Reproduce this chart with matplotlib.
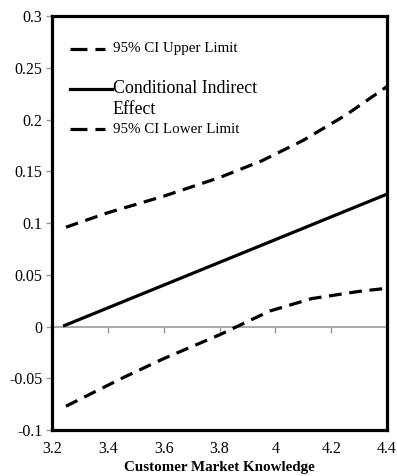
import matplotlib
matplotlib.use("Agg")
import matplotlib.pyplot as plt
from matplotlib.lines import Line2D
import numpy as np

# Data
x_mid = [3.245, 4.4]
effect = [0.001, 0.128]

x_upper = [3.25, 3.4, 3.6, 3.8, 3.95, 4.1, 4.25, 4.4]
upper = [0.096, 0.110, 0.126, 0.144, 0.160, 0.180, 0.204, 0.232]

x_lower = [3.25, 3.45, 3.6, 3.8, 3.98, 4.13, 4.3, 4.4]
lower = [-0.077, -0.050, -0.031, -0.008, 0.015, 0.027, 0.034, 0.037]

xticks = [3.2, 3.4, 3.6, 3.8, 4.0, 4.2, 4.4]
xtick_labels = ["3.2", "3.4", "3.6", "3.8", "4", "4.2", "4.4"]
yticks = [-0.1, -0.05, 0, 0.05, 0.1, 0.15, 0.2, 0.25, 0.3]
ytick_labels = ["-0.1", "-0.05", "0", "0.05", "0.1", "0.15", "0.2", "0.25", "0.3"]

legend_labels = ["95% CI Upper Limit", "Conditional Indirect", "Effect", "95% CI Lower Limit"]

plt.rcParams['font.family'] = ['Liberation Serif', 'DejaVu Serif']

fig = plt.figure(figsize=(3.97, 4.76), dpi=100)
ax = fig.add_axes([0.131, 0.0966, 0.844, 0.8695])

dash = (4, 2.4)
lw = 2.3
ax.plot(x_upper, upper, color='black', lw=lw, dashes=dash)
ax.plot(x_mid, effect, color='black', lw=lw)
ax.plot(x_lower, lower, color='black', lw=lw, dashes=dash)

ax.set_xlim(3.2, 4.4)
ax.set_ylim(-0.1, 0.3)
ax.set_yticks(yticks)
ax.set_yticklabels(ytick_labels, fontsize=11.5)
ax.set_xticks(xticks)
ax.set_xticklabels(xtick_labels, fontsize=11.5)
ax.tick_params(axis='x', length=0, pad=8)
ax.tick_params(axis='y', length=4, color='#999999', width=1, pad=3)
for s in ax.spines.values():
    s.set_linewidth(2.3)
    s.set_color('black')

sec = ax.secondary_xaxis(0, transform=ax.transData)
sec.set_xticks(xticks)
sec.set_xticklabels([])
sec.tick_params(axis='x', length=4, color='#999999', width=1)
sec.spines['bottom'].set_color('#999999')
sec.spines['bottom'].set_linewidth(1.2)

ax.set_xlabel("Customer Market Knowledge", fontsize=10.8, fontweight='bold', labelpad=3)

# Legend drawn as key samples in axes fraction
row_y = [0.921, 0.824, 0.775, 0.727]
styles = ['dash', 'solid', None, 'dash']
sizes = [10.8, 12.9, 12.9, 10.8]
hx0, tx = 0.054, 0.182
hx1 = {'dash': 0.159, 'solid': 0.18}
for y, st, sz, lab in zip(row_y, styles, sizes, legend_labels):
    if st == 'dash':
        ax.add_line(Line2D([hx0, hx1[st]], [y, y], transform=ax.transAxes,
                           color='black', lw=lw, dashes=(5.3, 2.5)))
    elif st == 'solid':
        ax.add_line(Line2D([hx0, hx1[st]], [y, y], transform=ax.transAxes,
                           color='black', lw=lw))
    ax.text(tx, y, lab, transform=ax.transAxes, fontsize=sz, va='center', ha='left')

fig.savefig("out.png", dpi=100)
